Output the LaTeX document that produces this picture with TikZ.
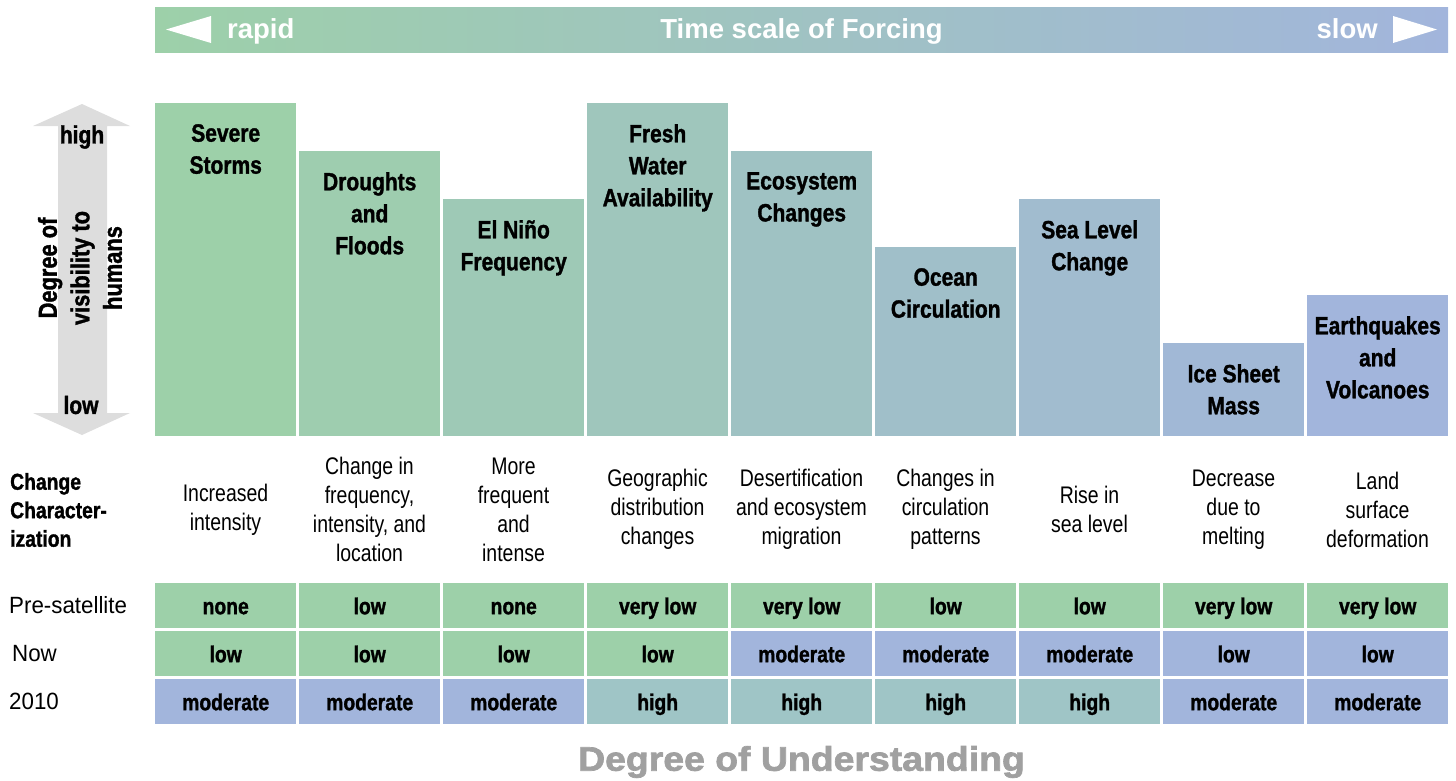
\documentclass[tikz,border=0pt]{standalone}
\usepackage{fontspec}
\setmainfont{Liberation Sans}
\newfontfamily\condfont[FakeStretch=0.84, BoldFeatures={FakeBold=1.3}]{Liberation Sans}
\newfontfamily\rcondfont[FakeStretch=0.81]{Liberation Sans}
\newfontfamily\rowfont[FakeStretch=0.95]{Liberation Sans}
\newfontfamily\widefont[FakeStretch=1.1, BoldFeatures={FakeBold=2}]{Liberation Sans}
\definecolor{cgreen}{RGB}{157,208,169}
\definecolor{cblue}{RGB}{162,181,220}
\definecolor{cteal}{RGB}{159,197,198}
\definecolor{arrowgray}{RGB}{221,221,221}
\definecolor{labelgray}{RGB}{160,160,160}
\colorlet{bc1}{cgreen}
\colorlet{bc2}{cblue!12.5!cgreen}
\colorlet{bc3}{cblue!25!cgreen}
\colorlet{bc4}{cblue!37.5!cgreen}
\colorlet{bc5}{cblue!50!cgreen}
\colorlet{bc6}{cblue!62.5!cgreen}
\colorlet{bc7}{cblue!75!cgreen}
\colorlet{bc8}{cblue!87.5!cgreen}
\colorlet{bc9}{cblue}
\tikzset{
  bar/.style={rectangle, minimum width=141pt, anchor=north west, inner sep=0pt},
  title/.style={font=\condfont\bfseries\fontsize{25}{32}\selectfont, align=center, anchor=north, inner sep=0pt},
  chg/.style={font=\rcondfont\fontsize{24}{29}\selectfont, align=center, inner sep=0pt},
  cell/.style={rectangle, minimum width=141pt, minimum height=45pt, anchor=north west, inner sep=0pt,
    font=\condfont\bfseries\fontsize{23}{28}\selectfont, text height=17pt, text depth=0pt},
  rowlab/.style={font=\rowfont\fontsize{23.5}{28}\selectfont, anchor=west, inner sep=0pt},
  toptext/.style={font=\bfseries\fontsize{27.5}{32}\selectfont, text=white, inner sep=0pt},
  sidelab/.style={font=\condfont\bfseries\fontsize{25}{32}\selectfont, inner sep=0pt},
}
\begin{document}
\begin{tikzpicture}[x=1pt,y=-1pt]
\useasboundingbox (0,0) rectangle (1456,780);
% top bar
\node[rectangle, minimum width=1293pt, minimum height=45pt, anchor=north west, inner sep=0pt,
  left color=cgreen, right color=cblue, draw=none] (timebar) at (155,7) {};
\fill[white] (166,29.5) -- (211,16) -- (211,43) -- cycle;
\fill[white] (1437,29.5) -- (1393,16) -- (1393,43) -- cycle;
\node[toptext, anchor=base west] (rapid) at (227,38.5) {rapid};
\node[toptext, anchor=base east] (slow) at (1378,38.5) {slow};
\node[toptext, anchor=base] (tsf) at (801.5,38.5) {Time scale of Forcing};
% visibility arrow
\fill[arrowgray] (82,104) -- (130,126) -- (107,126) -- (107,413) -- (130,413) -- (82,435)
  -- (33,413) -- (58,413) -- (58,126) -- (33,126) -- cycle;
\node[sidelab] (high) at (82,137) {high};
\node[sidelab] (low) at (81,405) {low};
\node[sidelab, rotate=90, align=center, font=\condfont\bfseries\fontsize{26}{32.5}\selectfont] (vis) at (80,268) {Degree of\\visibility to\\humans};
% bars
\node[bar, fill=bc1, minimum height=333pt] (b1) at (155,103) {};
\node[bar, fill=bc2, minimum height=285pt] (b2) at (299,151) {};
\node[bar, fill=bc3, minimum height=237pt] (b3) at (443,199) {};
\node[bar, fill=bc4, minimum height=333pt] (b4) at (587,103) {};
\node[bar, fill=bc5, minimum height=285pt] (b5) at (731,151) {};
\node[bar, fill=bc6, minimum height=189pt] (b6) at (875,247) {};
\node[bar, fill=bc7, minimum height=237pt] (b7) at (1019,199) {};
\node[bar, fill=bc8, minimum height=93pt] (b8) at (1163,343) {};
\node[bar, fill=bc9, minimum height=141pt] (b9) at (1307,295) {};
\node[title] (t1) at ([yshift=-21pt]b1.north) {Severe\\Storms};
\node[title] (t2) at ([yshift=-21pt]b2.north) {Droughts\\and\\Floods};
\node[title] (t3) at ([yshift=-21pt]b3.north) {El Niño\\Frequency};
\node[title] (t4) at ([yshift=-21pt]b4.north) {Fresh\\Water\\Availability};
\node[title] (t5) at ([yshift=-21pt]b5.north) {Ecosystem\\Changes};
\node[title] (t6) at ([yshift=-21pt]b6.north) {Ocean\\Circulation};
\node[title] (t7) at ([yshift=-21pt]b7.north) {Sea Level\\Change};
\node[title] (t8) at ([yshift=-21pt]b8.north) {Ice Sheet\\Mass};
\node[title] (t9) at ([yshift=-21pt]b9.north) {Earthquakes\\and\\Volcanoes};
% change characterization
\node[font=\condfont\bfseries\fontsize{23}{28.5}\selectfont, align=left, anchor=west, inner sep=0pt] (cclab) at (10,510) {Change\\Character-\\ization};
\node[chg] (c1) at (225.5,509.5) {Increased\\intensity};
\node[chg] (c2) at (369.5,509.5) {Change in\\frequency,\\intensity, and\\location};
\node[chg] (c3) at (513.5,509.5) {More\\frequent\\and\\intense};
\node[chg] (c4) at (657.5,509.5) {Geographic\\distribution\\changes};
\node[chg] (c5) at (801.5,509.5) {Desertification\\and ecosystem\\migration};
\node[chg] (c6) at (945.5,509.5) {Changes in\\circulation\\patterns};
\node[chg] (c7) at (1089.5,509.5) {Rise in\\sea level};
\node[chg] (c8) at (1233.5,509.5) {Decrease\\due to\\melting};
\node[chg] (c9) at (1377.5,509.5) {Land\\surface\\deformation};
% row labels
\node[rowlab] (rpre) at (9,605.5) {Pre-satellite};
\node[rowlab] (rnow) at (12,653.5) {Now};
\node[rowlab] (r2010) at (9,701.5) {2010};
% row 1
\node[cell, fill=cgreen] (p1) at (155,583) {none};
\node[cell, fill=cgreen] (p2) at (299,583) {low};
\node[cell, fill=cgreen] (p3) at (443,583) {none};
\node[cell, fill=cgreen] (p4) at (587,583) {very low};
\node[cell, fill=cgreen] (p5) at (731,583) {very low};
\node[cell, fill=cgreen] (p6) at (875,583) {low};
\node[cell, fill=cgreen] (p7) at (1019,583) {low};
\node[cell, fill=cgreen] (p8) at (1163,583) {very low};
\node[cell, fill=cgreen] (p9) at (1307,583) {very low};
% row 2
\node[cell, fill=cgreen] (n1) at (155,631) {low};
\node[cell, fill=cgreen] (n2) at (299,631) {low};
\node[cell, fill=cgreen] (n3) at (443,631) {low};
\node[cell, fill=cgreen] (n4) at (587,631) {low};
\node[cell, fill=cblue] (n5) at (731,631) {moderate};
\node[cell, fill=cblue] (n6) at (875,631) {moderate};
\node[cell, fill=cblue] (n7) at (1019,631) {moderate};
\node[cell, fill=cblue] (n8) at (1163,631) {low};
\node[cell, fill=cblue] (n9) at (1307,631) {low};
% row 3
\node[cell, fill=cblue] (f1) at (155,679) {moderate};
\node[cell, fill=cblue] (f2) at (299,679) {moderate};
\node[cell, fill=cblue] (f3) at (443,679) {moderate};
\node[cell, fill=cteal] (f4) at (587,679) {high};
\node[cell, fill=cteal] (f5) at (731,679) {high};
\node[cell, fill=cteal] (f6) at (875,679) {high};
\node[cell, fill=cteal] (f7) at (1019,679) {high};
\node[cell, fill=cblue] (f8) at (1163,679) {moderate};
\node[cell, fill=cblue] (f9) at (1307,679) {moderate};
% bottom label
\node[font=\widefont\bfseries\fontsize{34}{40}\selectfont, text=labelgray, inner sep=0pt] (dou) at (801.5,762) {Degree of Understanding};
\end{tikzpicture}
\end{document}
